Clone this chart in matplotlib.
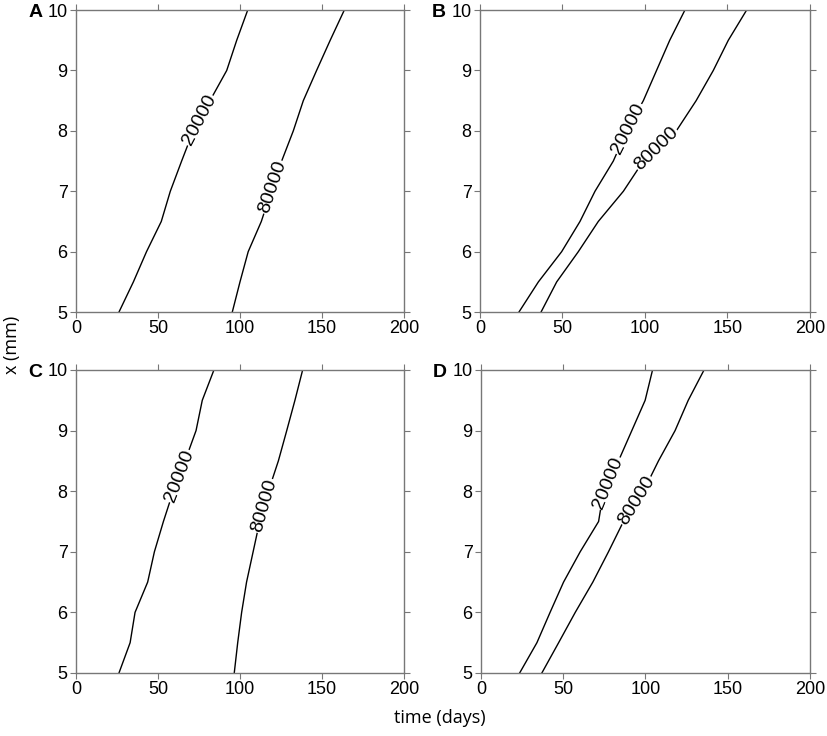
import numpy as np
import matplotlib
matplotlib.use("Agg")
import matplotlib.pyplot as plt

plt.rcParams['font.family'] = ['Liberation Sans', 'DejaVu Sans']

# depth levels along each curve (mm)
x_levels = [5.0, 5.5, 6.0, 6.5, 7.0, 7.5, 8.0, 8.5, 9.0, 9.5, 10.0]

# time (days) at which each contour reaches the depths above
a_20000 = [26.2, 35.0, 43.0, 52.0, 57.5, 64.4, 71.5, 81.7, 91.9, 98.0, 104.7]
a_80000 = [95.3, 100.0, 105.0, 113.0, 119.0, 125.4, 132.5, 138.6, 146.7, 155.0, 163.6]
b_20000 = [23.6, 35.4, 49.5, 60.6, 69.7, 80.8, 88.9, 99.0, 107.0, 115.0, 124.2]
b_80000 = [37.0, 46.5, 59.6, 71.7, 86.9, 99.0, 119.0, 131.0, 141.4, 150.5, 161.6]
c_20000 = [26.2, 33.0, 36.0, 43.7, 47.8, 53.3, 59.3, 66.5, 73.2, 77.0, 84.1]
c_80000 = [96.5, 98.6, 101.0, 104.0, 108.0, 112.0, 117.3, 123.4, 128.5, 133.5, 138.2]
d_20000 = [23.5, 34.0, 42.0, 50.2, 60.3, 71.5, 74.5, 83.6, 91.7, 99.8, 104.3]
d_80000 = [37.0, 47.2, 57.3, 68.0, 77.5, 86.6, 98.8, 107.9, 118.0, 126.0, 135.6]

# label depth for (20000, 80000) in each panel
label_depth = {
    'A': (8.18, 7.07),
    'B': (8.04, 7.70),
    'C': (8.25, 7.76),
    'D': (8.14, 7.84),
}

panels = {
    'A': (a_20000, a_80000),
    'B': (b_20000, b_80000),
    'C': (c_20000, c_80000),
    'D': (d_20000, d_80000),
}

positions = {
    'A': [0.0919, 0.576, 0.3966, 0.4103],
    'B': [0.5804, 0.576, 0.3990, 0.4103],
    'C': [0.0919, 0.0856, 0.3966, 0.4117],
    'D': [0.5816, 0.0856, 0.3978, 0.4117],
}


def add_label(ax, t, x, depth, text):
    t = np.asarray(t)
    x = np.asarray(x)
    tc = np.interp(depth, x, t)
    t1 = np.interp(depth - 0.3, x, t)
    t2 = np.interp(depth + 0.3, x, t)
    ang = np.degrees(np.arctan2(0.6, t2 - t1))
    ax.text(tc, depth, text, rotation=ang, transform_rotates_text=True,
            rotation_mode='anchor', ha='center', va='center', fontsize=14,
            zorder=5, bbox=dict(facecolor='white', edgecolor='none', pad=0.5))


fig = plt.figure(figsize=(8.27, 7.36), dpi=100)

for name, (l20, l80) in panels.items():
    ax = fig.add_axes(positions[name])
    ax.plot(l20, x_levels, color='black', lw=1.0)
    ax.plot(l80, x_levels, color='black', lw=1.0)
    add_label(ax, l20, x_levels, label_depth[name][0], '20000')
    add_label(ax, l80, x_levels, label_depth[name][1], '80000')
    ax.set_xlim(0, 200)
    ax.set_ylim(5, 10)
    ax.set_xticks([0, 50, 100, 150, 200])
    ax.set_yticks([5, 6, 7, 8, 9, 10])
    ax.tick_params(direction='out', length=4, width=0.8, color='#777777',
                   labelsize=13, top=True, right=True, pad=2)
    for sp in ax.spines.values():
        sp.set_color('#777777')
        sp.set_linewidth(1.0)
    pos = positions[name]
    fig.text(pos[0] - 0.058, pos[1] + pos[3] - 0.003, name, fontsize=14,
             fontweight='bold', ha='left', va='center')

fig.text(0.014, 0.531, 'x (mm)', rotation=90, ha='center', va='center',
         fontsize=13, family=['Open Sans', 'DejaVu Sans'])
fig.text(0.532, 0.025, 'time (days)', ha='center', va='center',
         fontsize=13, family=['Open Sans', 'DejaVu Sans'])

fig.savefig('out.png', dpi=100)
